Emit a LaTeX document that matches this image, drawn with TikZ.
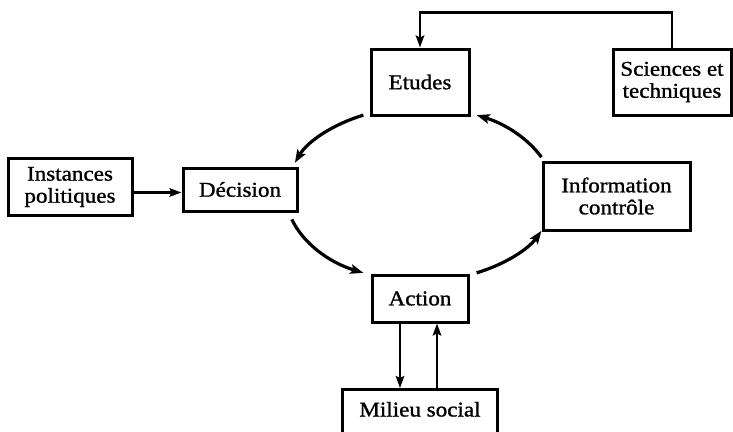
\documentclass[tikz,border=0pt]{standalone}
\usepackage{fontspec}
\setmainfont[FakeStretch=1.1,FakeBold=1.1]{Liberation Serif}
\usetikzlibrary{arrows.meta,calc}
\begin{document}
\begin{tikzpicture}[x=1pt,y=-1pt,
  box/.style={draw, line width=3pt, align=center, inner sep=0pt,
    font=\fontsize{21}{22}\selectfont},
  arr/.style={line width=2.4pt, -{Stealth[length=12pt,width=8.5pt,inset=2pt]}},
  cyc/.style={line width=3.2pt, -{Stealth[length=13pt,width=9.5pt,inset=2.5pt]}}]
\clip (0,0) rectangle (733,431);
\fill[white] (0,0) rectangle (733,431);
\node[box, minimum width=98pt, minimum height=66pt] (E) at (420,82) {Etudes};
\node[box, minimum width=118pt, minimum height=66pt] (S) at (672,82) {Sciences et\\techniques};
\node[box, minimum width=124pt, minimum height=57pt] (I) at (70,187) {Instances\\politiques};
\node[box, minimum width=114pt, minimum height=43pt] (D) at (240,189.5) {Décision};
\node[box, minimum width=147pt, minimum height=68pt] (N) at (616.5,196) {Information\\contrôle};
\node[box, minimum width=96pt, minimum height=47pt] (A) at (420,298.5) {Action};
\node[box, anchor=north, minimum width=155pt, inner ysep=11pt, text height=16pt, text depth=40pt] (M) at (420,388) {Milieu social};
\coordinate (c) at (420,194);
% feedback from sciences
\draw[arr] (S.north) -- ++(0,-35) -| (E.north);
% instances -> decision
\draw[arr] ([yshift=-3pt]D.west -| I.east) -- ([yshift=-3pt]D.west);
% action <-> milieu
\draw[arr] ([xshift=-20pt]A.south) -- ([xshift=-20pt]A.south |- M.north);
\draw[arr] ([xshift=17pt]A.south |- M.north) -- ([xshift=17pt]A.south);
% cycle arcs
\draw[cyc] ($(c)+(115:134pt and 87pt)$) arc[start angle=115, end angle=159, x radius=134pt, y radius=87pt];
\draw[cyc] ($(c)+(197:134pt and 87pt)$) arc[start angle=197, end angle=245, x radius=134pt, y radius=87pt];
\draw[cyc] ($(c)+(295:134pt and 87pt)$) arc[start angle=295, end angle=335, x radius=134pt, y radius=87pt];
\draw[cyc] ($(c)+(25:134pt and 87pt)$) arc[start angle=25, end angle=65, x radius=134pt, y radius=87pt];
\end{tikzpicture}
\end{document}
